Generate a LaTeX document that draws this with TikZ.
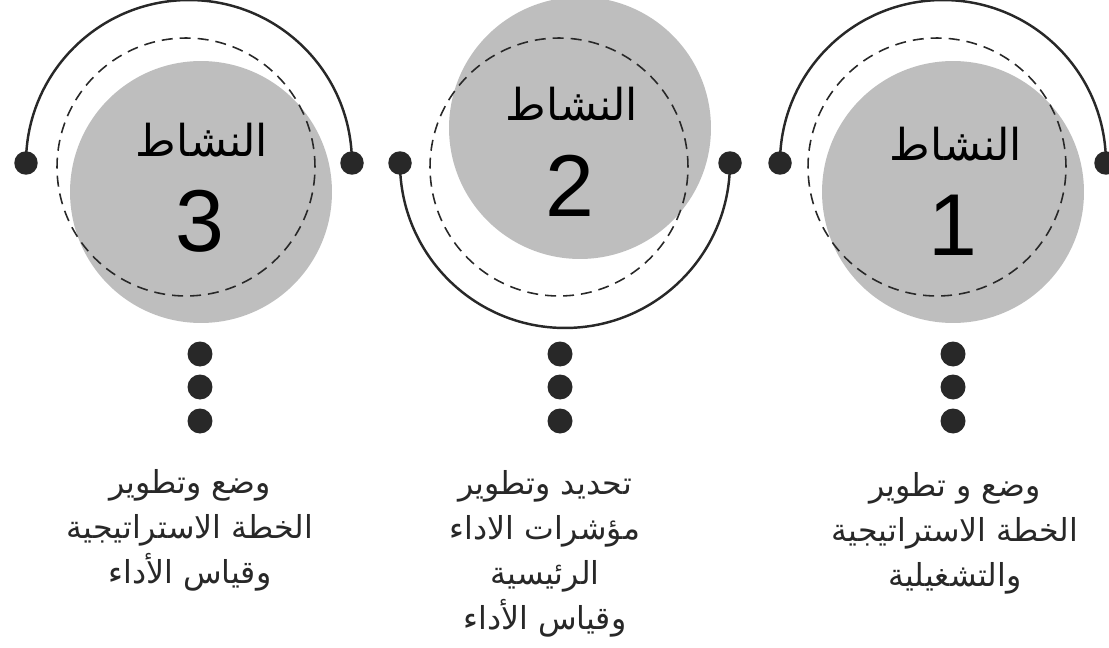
\documentclass[tikz,border=0pt]{standalone}
\usepackage{fontspec}
\newfontfamily\arabicfont[Script=Arabic]{DejaVu Sans}
\newfontfamily\numfont{Liberation Sans}
\TeXXeTstate=1
\definecolor{discgray}{RGB}{190,190,190}
\definecolor{darkline}{RGB}{40,40,40}

\begin{document}
\begin{tikzpicture}[x=0.02cm, y=0.02cm]
    % Stili
    \tikzstyle{disc}=[circle, fill=discgray, minimum size=5.24cm, inner sep=0pt]
    \tikzstyle{dashring}=[circle, draw=darkline, dash pattern=on 0.22cm off 0.14cm, line width=0.9pt, minimum size=5.16cm, inner sep=0pt]
    \tikzstyle{enddot}=[circle, fill=darkline, minimum size=0.47cm, inner sep=0pt]
    \tikzstyle{bullet}=[circle, fill=darkline, minimum size=0.5cm, inner sep=0pt]
    \tikzstyle{arcline}=[draw=darkline, line width=1.4pt]
    \tikzstyle{title}=[font=\arabicfont\fontsize{25}{30}\selectfont, text=black]
    \tikzstyle{number}=[font=\numfont\fontsize{50}{54}\selectfont, text=black]
    \tikzstyle{caption}=[font=\arabicfont\fontsize{18}{25.6}\selectfont, align=center, text=darkline]

    \useasboundingbox (0,0) rectangle (1109,647);

    % Dischi grigi
    \node[disc] (disc_3) at (201,455) {};
    \node[disc] (disc_2) at (580,519) {};
    \node[disc] (disc_1) at (953,455) {};

    % Cerchi tratteggiati
    \node[dashring] (ring_3) at (186,480) {};
    \node[dashring] (ring_2) at (559,480) {};
    \node[dashring] (ring_1) at (937,480) {};

    % Titoli e numeri
    \node[title] (title_3) at (202,507) {\beginR النشاط\endR};
    \node[number] (num_3) at (200,426) {3};
    \node[title] (title_2) at (572,543) {\beginR النشاط\endR};
    \node[number] (num_2) at (570,461) {2};
    \node[title] (title_1) at (956,503) {\beginR النشاط\endR};
    \node[number] (num_1) at (953,422) {1};

    % Punti alle estremita degli archi
    \node[enddot] (dot_3a) at (26,484) {};
    \node[enddot] (dot_3b) at (352,484) {};
    \node[enddot] (dot_2a) at (400,484) {};
    \node[enddot] (dot_2b) at (730,484) {};
    \node[enddot] (dot_1a) at (780,484) {};
    \node[enddot] (dot_1b) at (1106,484) {};

    % Archi
    \draw[arcline] (dot_3a.center) arc[start angle=180, end angle=0, radius=3.26cm];
    \draw[arcline] (dot_2a.center) arc[start angle=180, end angle=360, radius=3.3cm];
    \draw[arcline] (dot_1a.center) arc[start angle=180, end angle=0, radius=3.26cm];

    % Punti verticali
    \foreach \x/\n in {200/3, 560/2, 953/1} {
        \node[bullet] (bul_\n a) at (\x,293) {};
        \node[bullet] (bul_\n b) at (\x,260) {};
        \node[bullet] (bul_\n c) at (\x,226) {};
    }

    % Testi
    \node[caption] (text_3) at (190,117) {\beginR وضع وتطوير\endR\\\beginR الخطة الاستراتيجية\endR\\\beginR وقياس الأداء\endR};
    \node[caption] (text_2) at (545,93) {\beginR تحديد وتطوير\endR\\\beginR مؤشرات الاداء\endR\\\beginR الرئيسية\endR\\\beginR وقياس الأداء\endR};
    \node[caption] (text_1) at (955,114) {\beginR وضع و تطوير\endR\\\beginR الخطة الاستراتيجية\endR\\\beginR والتشغيلية\endR};
\end{tikzpicture}
\end{document}
